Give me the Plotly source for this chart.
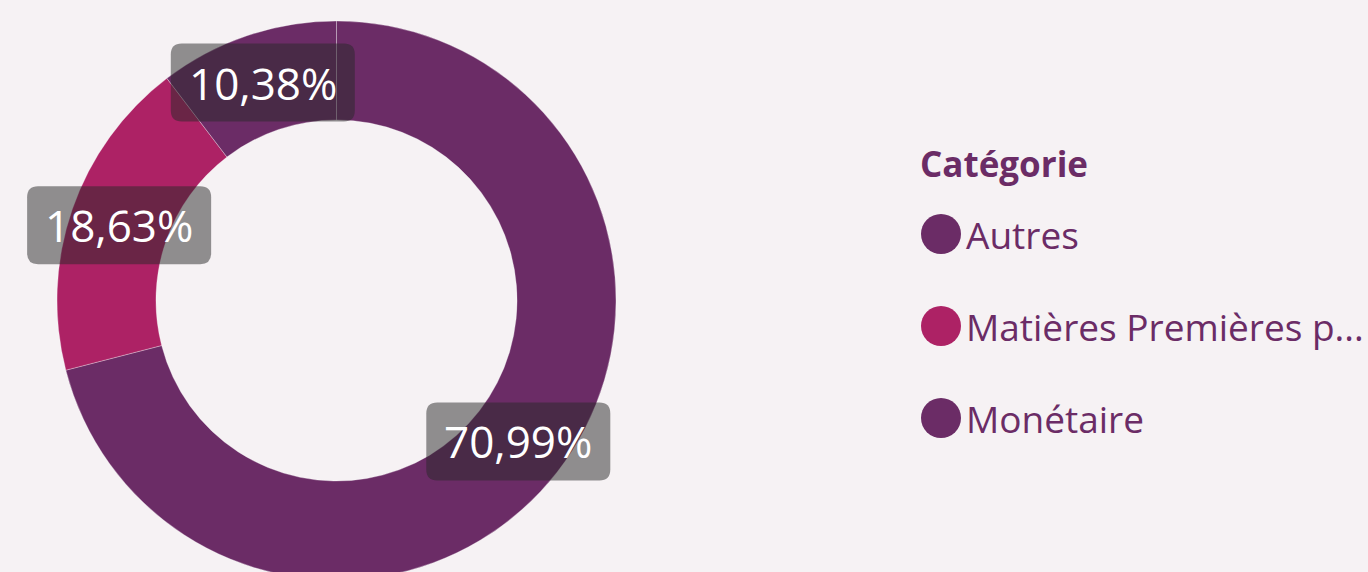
import math
import plotly.graph_objects as go

# ---- data ----
categories = ["Autres", "Matières Premières p...", "Monétaire"]
percentages = [10.38, 18.63, 70.99]
colors = ["#6B2C66", "#AD2265", "#6B2C66"]
legend_title = "Catégorie"

# ---- figure geometry (pixels) ----
# figure is slightly taller than the 572px window so the ring is clipped at the bottom
W, H = 1368, 580
MT, MB, ML, MR = 21, 0, 0, 0
PW, PH = W - ML - MR, H - MT - MB
HOLE = 0.646
DOM_X = [0, 673 / PW]
DOM_Y = [0, 1]

BG = "#F6F2F4"
TXT = "#6B2C66"
FONT = "Open Sans"

fig = go.Figure()
# slices drawn clockwise from 12 o'clock in reverse legend order
fig.add_trace(go.Pie(
    labels=categories[::-1],
    values=percentages[::-1],
    sort=False,
    direction="clockwise",
    rotation=0,
    hole=HOLE,
    marker=dict(colors=colors[::-1], line=dict(color="rgba(255,255,255,0.3)", width=1)),
    textinfo="none",
    hoverinfo="label+percent",
    showlegend=False,
    domain=dict(x=DOM_X, y=DOM_Y),
))

# pie geometry in pixels (as plotly lays it out)
dw = (DOM_X[1] - DOM_X[0]) * PW
dh = (DOM_Y[1] - DOM_Y[0]) * PH
R = min(dw, dh) / 2
cx = ML + (DOM_X[0] * PW) + dw / 2
cy = MT + (1 - DOM_Y[1]) * PH + dh / 2


def to_paper(px, py):
    return (px - ML) / PW, (H - MB - py) / PH


def rounded_rect(w, h, r):
    x0, x1, y0, y1 = -w / 2, w / 2, -h / 2, h / 2
    return (f"M {x0 + r},{y0} L {x1 - r},{y0} Q {x1},{y0} {x1},{y0 + r} "
            f"L {x1},{y1 - r} Q {x1},{y1} {x1 - r},{y1} L {x0 + r},{y1} "
            f"Q {x0},{y1} {x0},{y1 - r} L {x0},{y0 + r} Q {x0},{y0} {x0 + r},{y0} Z")


total = sum(percentages)
rlab = R * (1 + HOLE) / 2
cum = 0.0
# legend order runs counterclockwise from 12 o'clock
for cat, p in zip(categories, percentages):
    mid = (cum + p / 2) / total * 2 * math.pi
    cum += p
    px = cx - rlab * math.sin(mid)
    py = cy - rlab * math.cos(mid)
    xp, yp = to_paper(px, py)
    fig.add_shape(type="path", xref="paper", yref="paper",
                  xsizemode="pixel", ysizemode="pixel",
                  xanchor=xp, yanchor=yp,
                  path=rounded_rect(184, 78, 11),
                  fillcolor="rgba(40,40,40,0.5)", line=dict(width=0), layer="above")
    fig.add_annotation(x=xp, y=yp, xref="paper", yref="paper",
                       text=f"{p:.2f}%".replace(".", ","), showarrow=False,
                       xanchor="center", yanchor="middle",
                       font=dict(family=FONT, size=44, color="white"))

# ---- legend (manual, circle markers) ----
tx, ty = to_paper(918, 163)
fig.add_annotation(x=tx, y=ty, xref="paper", yref="paper", text=legend_title,
                   showarrow=False, xanchor="left", yanchor="middle",
                   font=dict(family=FONT, size=35, color=TXT, weight=700))
for i, (cat, col) in enumerate(zip(categories, colors)):
    ly = 234 + i * 92
    mx, my = to_paper(941, ly)
    fig.add_shape(type="circle", xref="paper", yref="paper",
                  xsizemode="pixel", ysizemode="pixel",
                  xanchor=mx, yanchor=my, x0=-20, x1=20, y0=-20, y1=20,
                  fillcolor=col, line=dict(width=0))
    lx, _ = to_paper(964, ly)
    fig.add_annotation(x=lx, y=my, xref="paper", yref="paper", text=cat,
                       showarrow=False, xanchor="left", yanchor="middle",
                       font=dict(family=FONT, size=37, color=TXT))

fig.update_layout(
    width=W, height=H,
    margin=dict(l=ML, r=MR, t=MT, b=MB, pad=0),
    paper_bgcolor=BG, plot_bgcolor=BG,
    showlegend=False,
)

fig.write_html("out.html",
               config={"displayModeBar": False},
               post_script="document.body.style.margin='0';"
                           "document.body.style.overflow='hidden';"
                           "document.documentElement.style.overflow='hidden';"
                           "document.documentElement.style.background='%s';" % BG)
